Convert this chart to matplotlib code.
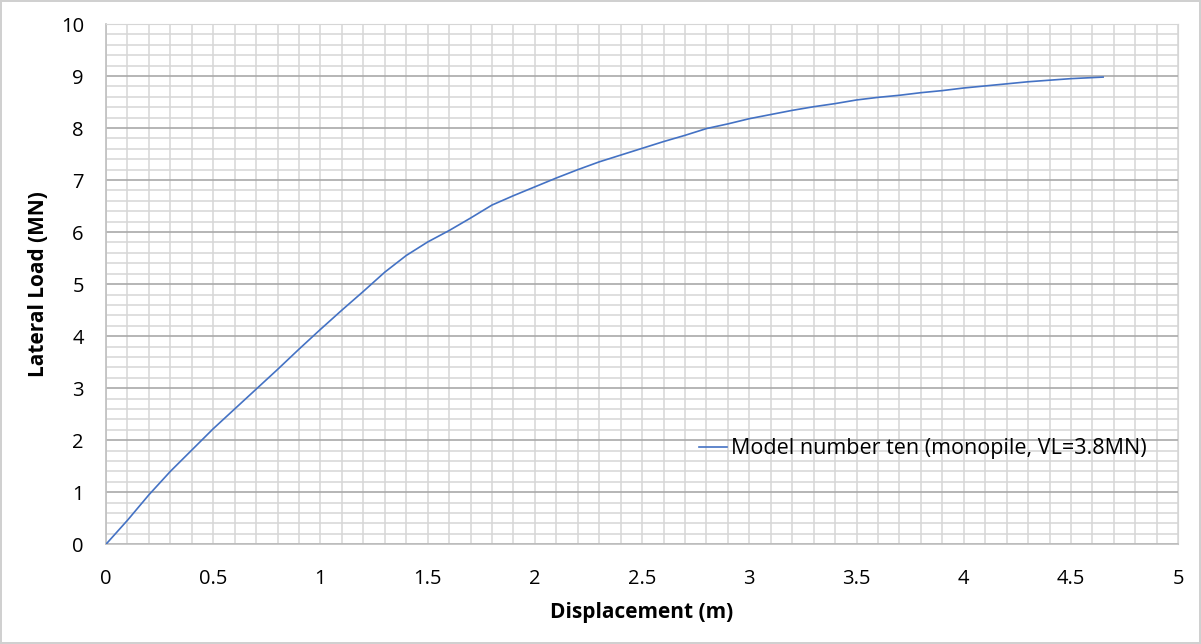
import matplotlib
matplotlib.use("Agg")
import matplotlib.pyplot as plt
from matplotlib.ticker import MultipleLocator

# Load-displacement response of the monopile model
displacement = [0.0, 0.1, 0.2, 0.3, 0.4, 0.5, 0.6, 0.7, 0.8, 0.9, 1.0, 1.1, 1.2,
                1.3, 1.4, 1.5, 1.6, 1.7, 1.8, 1.9, 2.0, 2.1, 2.2, 2.3, 2.4, 2.5,
                2.6, 2.7, 2.8, 2.9, 3.0, 3.1, 3.2, 3.3, 3.4, 3.5, 3.6, 3.7, 3.8,
                3.9, 4.0, 4.1, 4.2, 4.3, 4.4, 4.5, 4.65]
lateral_load = [0.0, 0.46, 0.95, 1.40, 1.81, 2.22, 2.60, 2.98, 3.36, 3.75, 4.13,
                4.50, 4.86, 5.23, 5.55, 5.81, 6.03, 6.27, 6.52, 6.70, 6.87, 7.04,
                7.20, 7.35, 7.48, 7.61, 7.74, 7.86, 7.99, 8.08, 8.18, 8.26, 8.34,
                8.41, 8.47, 8.54, 8.59, 8.63, 8.68, 8.72, 8.77, 8.81, 8.85, 8.89,
                8.92, 8.95, 8.98]
series_label = "Model number ten (monopile, VL=3.8MN)"
x_ticks = [0, 0.5, 1, 1.5, 2, 2.5, 3, 3.5, 4, 4.5, 5]
x_tick_labels = ["0", "0.5", "1", "1.5", "2", "2.5", "3", "3.5", "4", "4.5", "5"]
y_ticks = list(range(0, 11))

plt.rcParams["font.family"] = ["Open Sans", "DejaVu Sans"]

fig = plt.figure(figsize=(12.01, 6.44), dpi=100)
fig.patch.set_edgecolor("#d0d0d0")
fig.patch.set_linewidth(1.5)
ax = fig.add_axes([0.0883, 0.155, 0.8927, 0.8077])

ax.plot(displacement, lateral_load, color="#4472C4", linewidth=1.2,
        label=series_label, zorder=3)

ax.set_xlim(0, 5)
ax.set_ylim(0, 10)
ax.set_xticks(x_ticks)
ax.set_xticklabels(x_tick_labels)
ax.set_yticks(y_ticks)
ax.xaxis.set_minor_locator(MultipleLocator(0.1))
ax.yaxis.set_minor_locator(MultipleLocator(0.2))

# Light minor grid everywhere, darker major lines for the load axis
ax.grid(which="minor", axis="both", color="#d6d6d6", linewidth=1.1)
ax.grid(which="major", axis="x", color="#d6d6d6", linewidth=1.1)
ax.grid(which="major", axis="y", color="#a9a9a9", linewidth=1.2)
ax.set_axisbelow(True)

ax.tick_params(which="both", length=0)
ax.tick_params(axis="x", pad=18, labelsize=14.5)
ax.tick_params(axis="y", pad=16, labelsize=14.5)

for side in ["top", "right"]:
    ax.spines[side].set_color("#d6d6d6")
for side in ["left", "bottom"]:
    ax.spines[side].set_color("#bfbfbf")
    ax.spines[side].set_linewidth(1.2)

ax.set_xlabel("Displacement (m)", fontsize=15, fontweight="bold")
ax.set_ylabel("Lateral Load (MN)", fontsize=15, fontweight="bold")
ax.xaxis.set_label_coords(0.5, -0.131)
ax.xaxis.label.set_va("center")
ax.yaxis.set_label_coords(-0.0634, 0.5)
ax.yaxis.label.set_va("center")

ax.legend(loc="center left", bbox_to_anchor=(0.535, 0.183), frameon=False,
          fontsize=15.5, handlelength=1.3, handletextpad=0.2)

fig.savefig("out.png", dpi=100)
